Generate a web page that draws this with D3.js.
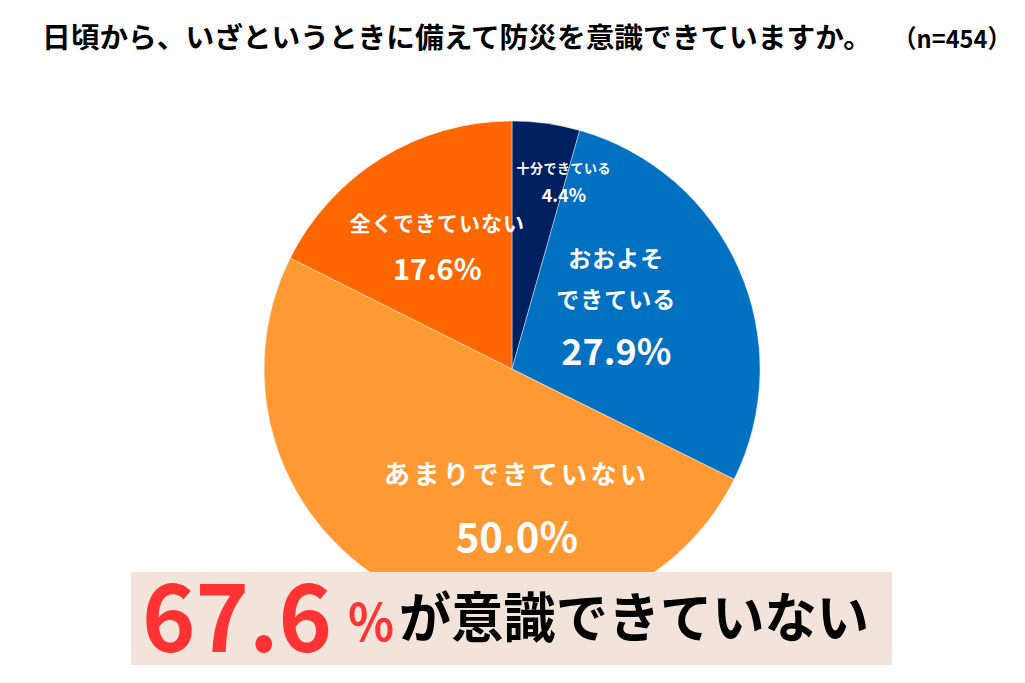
<!DOCTYPE html>
<html>
<head>
<meta charset="utf-8">
<script src="https://cdn.jsdelivr.net/npm/d3@7"></script>
<style>
  body { margin: 0; background: #fff; }
  svg { display: block; font-family: "Noto Sans CJK JP", "Noto Sans", sans-serif; }
</style>
</head>
<body>
<script>
// answers, clockwise from 12 o'clock
const categories = ["十分できている", "おおよそできている", "あまりできていない", "全くできていない"];
const values = [4.4, 27.9, 50.0, 17.6];
const sampleSize = 454;
const summaryValue = 67.6;

const width = 1025, height = 683;
const cx = 512, cy = 369, radius = 248;

const colors = d3.scaleOrdinal()
  .domain(categories)
  .range(["#002060", "#0070c0", "#ff9933", "#ff6600"]);

// where each label group sits (angle in degrees, distance from centre) and how its lines look
const labelLayout = {
  "十分できている":   { angle: 15.5, r: 194, lines: [["十分できている", 13, -15, 0.5], ["%", 18, 12, 0]] },
  "おおよそできている": { angle: 58, r: 123, lines: [["おおよそ", 23, -47, 1], ["できている", 23, -6, 1], ["%", 36, 45, 0]] },
  "あまりできていない": { angle: 178, r: 138, lines: [["あまりできていない", 26, -34, 3.5], ["%", 40, 28, 0]] },
  "全くできていない":  { angle: -32, r: 141, lines: [["全くできていない", 21, -27, 1], ["%", 29, 18, 0]] }
};

const svg = d3.select("body").append("svg")
  .attr("width", width)
  .attr("height", height);

// title
svg.append("text")
  .attr("x", 42)
  .attr("y", 48)
  .attr("font-size", 28)
  .attr("font-weight", "bold")
  .attr("textLength", 830)
  .attr("lengthAdjust", "spacingAndGlyphs")
  .text("日頃から、いざというときに備えて防災を意識できていますか。");

svg.append("text")
  .attr("x", 893)
  .attr("y", 48)
  .attr("font-size", 25)
  .attr("font-weight", "bold")
  .attr("textLength", 118)
  .attr("lengthAdjust", "spacingAndGlyphs")
  .text(`（n=${sampleSize}）`);

// pie
const pie = d3.pie().sort(null).value(d => d.value);
const arc = d3.arc().innerRadius(0).outerRadius(radius);
const slices = pie(categories.map((c, i) => ({ name: c, value: values[i] })));

const g = svg.append("g").attr("transform", `translate(${cx},${cy})`);

g.selectAll("path")
  .data(slices)
  .enter()
  .append("path")
  .attr("d", arc)
  .attr("fill", d => colors(d.data.name))
  .attr("stroke", "rgba(255,255,255,0.6)")
  .attr("stroke-width", 0.7);

// slice labels
slices.forEach(d => {
  const lay = labelLayout[d.data.name];
  const [lx, ly] = d3.pointRadial(lay.angle * Math.PI / 180, lay.r);
  lay.lines.forEach(([txt, size, dy, ls]) => {
    g.append("text")
      .attr("x", lx)
      .attr("y", ly + dy)
      .attr("text-anchor", "middle")
      .attr("dominant-baseline", "central")
      .attr("fill", "#fff")
      .attr("font-size", size)
      .attr("font-weight", "bold")
      .attr("letter-spacing", ls)
      .text(txt === "%" ? d.data.value.toFixed(1) + "%" : txt);
  });
});

// summary banner
svg.append("rect")
  .attr("x", 131)
  .attr("y", 572)
  .attr("width", 761)
  .attr("height", 93)
  .attr("fill", "#f2e4da");

svg.append("text")
  .attr("x", 142)
  .attr("y", 652)
  .attr("font-size", 94)
  .attr("font-weight", "bold")
  .attr("fill", "#ff3333")
  .attr("textLength", 190)
  .attr("lengthAdjust", "spacingAndGlyphs")
  .text(summaryValue.toFixed(1));

svg.append("text")
  .attr("x", 348)
  .attr("y", 641)
  .attr("font-size", 52)
  .attr("font-weight", "bold")
  .attr("fill", "#ff3333")
  .attr("textLength", 46)
  .attr("lengthAdjust", "spacingAndGlyphs")
  .text("%");

svg.append("text")
  .attr("x", 399)
  .attr("y", 638)
  .attr("font-size", 54)
  .attr("font-weight", "bold")
  .attr("fill", "#000")
  .attr("textLength", 470)
  .attr("lengthAdjust", "spacingAndGlyphs")
  .text("が意識できていない");
</script>
</body>
</html>
